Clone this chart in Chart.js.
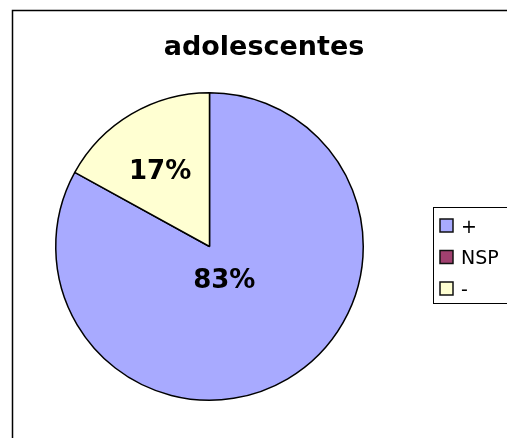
<!DOCTYPE html>
<html>
<head>
<meta charset="utf-8">
<script src="https://cdn.jsdelivr.net/npm/chart.js@4.4.1/dist/chart.umd.min.js"></script>
<style>
  html, body { margin: 0; padding: 0; background: #fff; }
  #pie { display: block; }
</style>
</head>
<body>
<canvas id="pie" width="507" height="438"></canvas>
<script>
// werte
const chartTitle = "adolescentes";
const labels = ["+", "NSP", "-"];
const values = [83, 0, 17];
const colors = ["#A8AAFF", "#A0406F", "#FFFFD2"];

const FONT = '"DejaVu Sans", Verdana, sans-serif';

// radius factor for the % labels inside each slice
const labelRadius = [0.24, 0.5, 0.58];

const frame = {
  id: "frame",
  afterDraw(chart) {
    const ctx = chart.ctx;
    ctx.save();
    // outer border
    ctx.strokeStyle = "#000";
    ctx.lineWidth = 1.5;
    ctx.strokeRect(12.5, 10.5, 520, 450);

    // title
    ctx.fillStyle = "#000";
    ctx.font = "bold 27px " + FONT;
    ctx.textAlign = "center";
    ctx.textBaseline = "alphabetic";
    ctx.fillText(chartTitle, 264, 55);

    // % labels
    const meta = chart.getDatasetMeta(0);
    const total = values.reduce((a, b) => a + b, 0);
    ctx.font = "bold 26px " + FONT;
    meta.data.forEach((arc, i) => {
      if (!values[i]) return;
      const p = arc.getProps(["x", "y", "startAngle", "endAngle", "outerRadius"], true);
      const mid = (p.startAngle + p.endAngle) / 2;
      const r = p.outerRadius * labelRadius[i];
      const x = p.x + Math.cos(mid) * r - 4;
      const y = p.y + Math.sin(mid) * r;
      ctx.fillText(Math.round(values[i] / total * 100) + "%", x, y + 9.5);
    });

    // legend
    ctx.lineWidth = 1;
    ctx.strokeStyle = "#000";
    ctx.strokeRect(433.5, 207.5, 100, 96);
    ctx.font = "19px " + FONT;
    ctx.textAlign = "left";
    labels.forEach((lab, i) => {
      const cy = 225.5 + i * 31.5;
      ctx.fillStyle = colors[i];
      ctx.fillRect(440, cy - 6.5, 13, 13);
      ctx.strokeStyle = "#111";
      ctx.lineWidth = 1.5;
      ctx.strokeRect(440, cy - 6.5, 13, 13);
      ctx.fillStyle = "#000";
      ctx.fillText(lab, 461, cy + 7);
    });
    ctx.restore();
  }
};

new Chart(document.getElementById("pie"), {
  type: "pie",
  data: {
    labels: labels,
    datasets: [{
      data: values,
      backgroundColor: colors,
      borderColor: "#000",
      borderWidth: 1.5
    }]
  },
  options: {
    responsive: false,
    animation: false,
    layout: { padding: { left: 55, right: 143, top: 92, bottom: 37 } },
    plugins: {
      legend: { display: false },
      tooltip: { enabled: false },
      title: { display: false }
    }
  },
  plugins: [frame]
});
</script>
</body>
</html>
